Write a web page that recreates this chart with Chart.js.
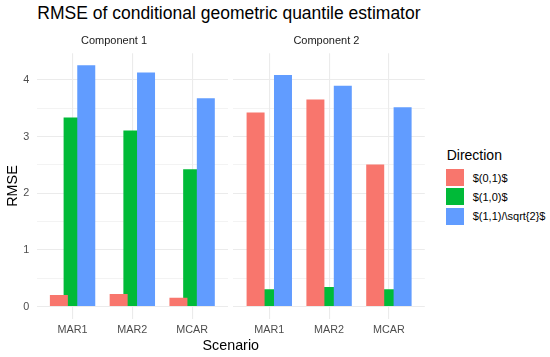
<!DOCTYPE html>
<html>
<head>
<meta charset="utf-8">
<script src="https://cdn.jsdelivr.net/npm/chart.js@4.4.1/dist/chart.umd.min.js"></script>
<style>
  body { margin: 0; background: #fff; font-family: "Liberation Sans", Arial, sans-serif; }
  #wrap { position: relative; width: 550px; height: 357px; overflow: hidden; }
  canvas { position: absolute; top: 0; }
  #titulo { position: absolute; left: 37.3px; top: 5.2px; font-size: 17.5px; line-height: 17.5px; color: #000; white-space: nowrap; }
  #eixoX { position: absolute; left: 0; width: 461.6px; top: 337.9px; text-align: center; font-size: 14.3px; line-height: 14.3px; color: #000; }
  #legendaTitulo { position: absolute; left: 446.7px; top: 147.5px; font-size: 14px; line-height: 14px; color: #000; }
  #legenda { position: absolute; left: 446px; top: 169px; }
  .item { display: flex; align-items: center; height: 17px; margin-bottom: 2.3px; }
  .caixa { width: 18px; height: 17px; margin-right: 8.7px; }
  .item span { font-size: 11px; color: #000; white-space: nowrap; }
</style>
</head>
<body>
<div id="wrap">
  <div id="titulo">RMSE of conditional geometric quantile estimator</div>
  <canvas id="painel1" width="232" height="357" style="left:0px"></canvas>
  <canvas id="painel2" width="200" height="357" style="left:228px"></canvas>
  <div id="eixoX">Scenario</div>
  <div id="legendaTitulo">Direction</div>
  <div id="legenda"></div>
</div>
<script>
var scenarios = ["MAR1", "MAR2", "MCAR"];
var directions = ["$(0,1)$", "$(1,0)$", "$(1,1)/\\sqrt{2}$"];
var colors = ["#F8766D", "#00BA38", "#619CFF"];

// Component 1
var comp1Dir01 = [0.204, 0.222, 0.157];
var comp1Dir10 = [3.335, 3.106, 2.424];
var comp1Dir11 = [4.256, 4.132, 3.674];

// Component 2
var comp2Dir01 = [3.423, 3.652, 2.507];
var comp2Dir10 = [0.305, 0.345, 0.305];
var comp2Dir11 = [4.085, 3.898, 3.516];

var yMin = -0.213;
var yMax = 4.469;
var fonte = "'Liberation Sans', Arial, sans-serif";

function plotarPainel(canvasId, titulo, serie01, serie10, serie11, primeiro) {
  var posicoes = [];
  for (var i = 0; i < scenarios.length; i++) {
    posicoes.push(i);
  }

  new Chart(document.getElementById(canvasId), {
    type: "bar",
    data: {
      labels: posicoes,
      datasets: [
        {
          label: directions[0],
          data: serie01,
          backgroundColor: colors[0],
          categoryPercentage: 0.916,
          barPercentage: 0.657,
          order: 0,
        },
        {
          label: directions[1],
          data: serie10,
          backgroundColor: colors[1],
          grouped: false,
          categoryPercentage: 1,
          barPercentage: 0.3,
          order: 1,
        },
        {
          label: directions[2],
          data: serie11,
          backgroundColor: colors[2],
          categoryPercentage: 0.916,
          barPercentage: 0.657,
          order: 0,
        },
      ],
    },
    options: {
      responsive: false,
      animation: false,
      devicePixelRatio: 1,
      events: [],
      layout: {
        padding: { left: 0, right: primeiro ? 4 : 3.2, top: 0, bottom: 0 },
      },
      scales: {
        x: {
          type: "linear",
          min: -0.6,
          max: 2.6,
          offset: false,
          border: { display: false },
          grid: {
            offset: false,
            drawTicks: false,
            color: "#EBEBEB",
            lineWidth: 1.1,
          },
          ticks: {
            stepSize: 1,
            includeBounds: false,
            autoSkip: false,
            maxRotation: 0,
            padding: 5.1,
            color: "#4D4D4D",
            font: { family: fonte, size: 10.8 },
            callback: function (valor) {
              return scenarios[valor];
            },
          },
          afterFit: function (eixo) {
            eixo.height = 38.3;
          },
        },
        y: {
          min: yMin,
          max: yMax,
          border: { display: false },
          grid: {
            drawTicks: false,
            color: "#EBEBEB",
            lineWidth: function (ctx) {
              return ctx.tick && ctx.tick.value % 1 === 0 ? 1.1 : 0.6;
            },
          },
          ticks: {
            display: primeiro,
            stepSize: 0.5,
            includeBounds: false,
            padding: 7.4,
            color: "#4D4D4D",
            font: { family: fonte, size: 10.8 },
            callback: function (valor) {
              return valor % 1 === 0 ? valor : "";
            },
          },
          title: {
            display: primeiro,
            text: "RMSE",
            color: "#000",
            font: { family: fonte, size: 14.4 },
            padding: { top: 3.9, bottom: 0 },
          },
          afterFit: function (eixo) {
            eixo.width = primeiro ? 36.7 : 5.4;
          },
        },
      },
      plugins: {
        legend: { display: false },
        tooltip: { enabled: false },
        title: {
          display: true,
          text: titulo,
          color: "#1A1A1A",
          font: { family: fonte, size: 11, weight: "normal" },
          padding: { top: 34.1, bottom: 6 },
        },
      },
    },
  });
}

function montarLegenda() {
  for (var i = 0; i < directions.length; i++) {
    legenda.innerHTML += `
      <div class="item">
        <div class="caixa" style="background:${colors[i]}"></div>
        <span>${directions[i]}</span>
      </div>
    `;
  }
}

plotarPainel("painel1", "Component 1", comp1Dir01, comp1Dir10, comp1Dir11, true);
plotarPainel("painel2", "Component 2", comp2Dir01, comp2Dir10, comp2Dir11, false);
montarLegenda();
</script>
</body>
</html>
